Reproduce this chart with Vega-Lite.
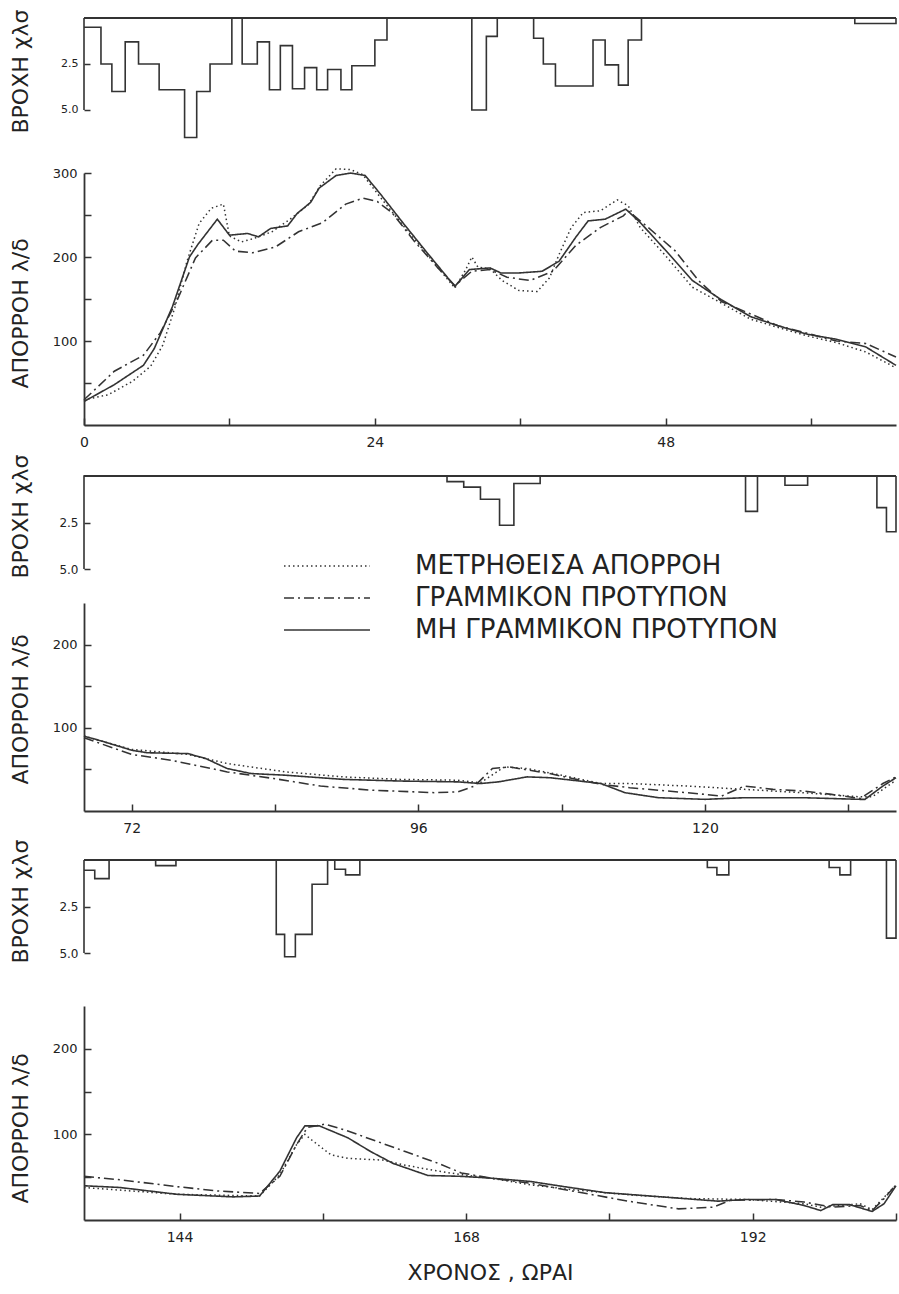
{
"$schema": "https://vega.github.io/schema/vega-lite/v6.json",
"background": "white",
"padding": {"left": 8, "top": 5, "right": 2, "bottom": 5},
"config": {
  "view": {"stroke": null},
  "font": "DejaVu Sans",
  "axis": {"grid": false, "labelFont": "DejaVu Sans", "labelFontSize": 12, "labelColor": "#222", "domainColor": "#333", "tickColor": "#333", "domainWidth": 1.8, "tickWidth": 1.5, "titleFont": "DejaVu Sans", "titleFontWeight": "normal", "titleColor": "#222", "labelOverlap": false, "labelFlush": false}
},
"datasets": {
"r": [
{"s":1,"i":-1,"t":0,"r":5},{"s":1,"i":0,"t":0,"r":0},{"s":1,"i":1,"t":0,"r":0.5},{"s":1,"i":2,"t":1.4,"r":2.5},{"s":1,"i":3,"t":2.3,"r":4.0},{"s":1,"i":4,"t":3.4,"r":1.3},{"s":1,"i":5,"t":4.5,"r":2.5},{"s":1,"i":6,"t":6.2,"r":3.9},{"s":1,"i":7,"t":8.3,"r":6.5},{"s":1,"i":8,"t":9.3,"r":4.0},{"s":1,"i":9,"t":10.4,"r":2.5},{"s":1,"i":10,"t":12.2,"r":0},{"s":1,"i":11,"t":13.05,"r":2.5},{"s":1,"i":12,"t":14.3,"r":1.3},{"s":1,"i":13,"t":15.3,"r":3.9},{"s":1,"i":14,"t":16.2,"r":1.5},{"s":1,"i":15,"t":17.2,"r":3.85},{"s":1,"i":16,"t":18.2,"r":2.7},{"s":1,"i":17,"t":19.2,"r":3.9},{"s":1,"i":18,"t":20.1,"r":2.8},{"s":1,"i":19,"t":21.2,"r":3.9},{"s":1,"i":20,"t":22.1,"r":2.6},{"s":1,"i":21,"t":24.0,"r":1.2},{"s":1,"i":22,"t":25.0,"r":0},{"s":1,"i":23,"t":32.0,"r":5.0},{"s":1,"i":24,"t":33.2,"r":1.0},{"s":1,"i":25,"t":34.1,"r":0},{"s":1,"i":26,"t":37.1,"r":1.1},{"s":1,"i":27,"t":37.9,"r":2.5},{"s":1,"i":28,"t":38.9,"r":3.7},{"s":1,"i":29,"t":42.0,"r":1.2},{"s":1,"i":30,"t":43.0,"r":2.55},{"s":1,"i":31,"t":44.1,"r":3.65},{"s":1,"i":32,"t":44.9,"r":1.2},{"s":1,"i":33,"t":46.0,"r":0},{"s":1,"i":34,"t":63.6,"r":0.3},{"s":1,"i":35,"t":67,"r":0.3},{"s":1,"i":36,"t":67,"r":0},
{"s":2,"i":39,"t":68,"r":5},{"s":2,"i":40,"t":68,"r":0},{"s":2,"i":41,"t":98.4,"r":0.3},{"s":2,"i":42,"t":99.8,"r":0.6},{"s":2,"i":43,"t":101.2,"r":1.25},{"s":2,"i":44,"t":102.8,"r":2.65},{"s":2,"i":45,"t":104.0,"r":0.4},{"s":2,"i":46,"t":106.2,"r":0},{"s":2,"i":47,"t":123.4,"r":1.9},{"s":2,"i":48,"t":124.4,"r":0},{"s":2,"i":49,"t":126.7,"r":0.5},{"s":2,"i":50,"t":128.6,"r":0},{"s":2,"i":51,"t":134.4,"r":1.7},{"s":2,"i":52,"t":135.2,"r":3.0},{"s":2,"i":53,"t":136,"r":3.0},{"s":2,"i":54,"t":136,"r":0},
{"s":3,"i":59,"t":136,"r":5},{"s":3,"i":60,"t":136,"r":0},{"s":3,"i":61,"t":136,"r":0.55},{"s":3,"i":62,"t":136.9,"r":1.0},{"s":3,"i":63,"t":138.1,"r":0},{"s":3,"i":64,"t":142.0,"r":0.3},{"s":3,"i":65,"t":143.7,"r":0},{"s":3,"i":66,"t":152.1,"r":4.0},{"s":3,"i":67,"t":152.8,"r":5.2},{"s":3,"i":68,"t":153.7,"r":4.0},{"s":3,"i":69,"t":155.1,"r":1.3},{"s":3,"i":70,"t":156.4,"r":0},{"s":3,"i":71,"t":157.0,"r":0.5},{"s":3,"i":72,"t":157.9,"r":0.8},{"s":3,"i":73,"t":159.1,"r":0},{"s":3,"i":74,"t":188.2,"r":0.4},{"s":3,"i":75,"t":189.0,"r":0.8},{"s":3,"i":76,"t":190.0,"r":0},{"s":3,"i":77,"t":198.4,"r":0.4},{"s":3,"i":78,"t":199.3,"r":0.8},{"s":3,"i":79,"t":200.2,"r":0},{"s":3,"i":80,"t":203.2,"r":4.2},{"s":3,"i":81,"t":204,"r":4.2},{"s":3,"i":82,"t":204,"r":0}
],
"q": [
{"s":1,"m":"N","t":0,"q":28},{"s":1,"m":"N","t":2.5,"q":48},{"s":1,"m":"N","t":4.9,"q":71},{"s":1,"m":"N","t":5.8,"q":91},{"s":1,"m":"N","t":7.3,"q":141},{"s":1,"m":"N","t":8.7,"q":200},{"s":1,"m":"N","t":9.4,"q":215},{"s":1,"m":"N","t":11.0,"q":245},{"s":1,"m":"N","t":12.0,"q":226},{"s":1,"m":"N","t":13.5,"q":228},{"s":1,"m":"N","t":14.4,"q":224},{"s":1,"m":"N","t":15.4,"q":234},{"s":1,"m":"N","t":16.8,"q":237},{"s":1,"m":"N","t":17.6,"q":252},{"s":1,"m":"N","t":18.7,"q":265},{"s":1,"m":"N","t":19.4,"q":282},{"s":1,"m":"N","t":20.8,"q":297},{"s":1,"m":"N","t":22.0,"q":300},{"s":1,"m":"N","t":23.2,"q":297},{"s":1,"m":"N","t":24.4,"q":276},{"s":1,"m":"N","t":26.3,"q":241},{"s":1,"m":"N","t":28.2,"q":207},{"s":1,"m":"N","t":30.6,"q":165},{"s":1,"m":"N","t":31.8,"q":185},{"s":1,"m":"N","t":33.5,"q":187},{"s":1,"m":"N","t":34.4,"q":181},{"s":1,"m":"N","t":35.9,"q":181},{"s":1,"m":"N","t":37.8,"q":183},{"s":1,"m":"N","t":39.2,"q":195},{"s":1,"m":"N","t":40.6,"q":224},{"s":1,"m":"N","t":41.6,"q":243},{"s":1,"m":"N","t":43.0,"q":245},{"s":1,"m":"N","t":44.7,"q":257},{"s":1,"m":"N","t":45.9,"q":241},{"s":1,"m":"N","t":48.3,"q":203},{"s":1,"m":"N","t":50.2,"q":172},{"s":1,"m":"N","t":52.6,"q":149},{"s":1,"m":"N","t":55.0,"q":129},{"s":1,"m":"N","t":57.3,"q":118},{"s":1,"m":"N","t":59.7,"q":108},{"s":1,"m":"N","t":62.1,"q":102},{"s":1,"m":"N","t":64.5,"q":93},{"s":1,"m":"N","t":67.0,"q":71},
{"s":1,"m":"M","t":0,"q":30},{"s":1,"m":"M","t":2,"q":36},{"s":1,"m":"M","t":4,"q":52},{"s":1,"m":"M","t":5.5,"q":70},{"s":1,"m":"M","t":6.5,"q":95},{"s":1,"m":"M","t":7.5,"q":140},{"s":1,"m":"M","t":8.5,"q":195},{"s":1,"m":"M","t":9.5,"q":240},{"s":1,"m":"M","t":10.5,"q":258},{"s":1,"m":"M","t":11.5,"q":263},{"s":1,"m":"M","t":12.0,"q":225},{"s":1,"m":"M","t":13.0,"q":218},{"s":1,"m":"M","t":14.0,"q":222},{"s":1,"m":"M","t":15.5,"q":230},{"s":1,"m":"M","t":17.0,"q":245},{"s":1,"m":"M","t":18.5,"q":262},{"s":1,"m":"M","t":19.5,"q":285},{"s":1,"m":"M","t":20.8,"q":305},{"s":1,"m":"M","t":22.0,"q":304},{"s":1,"m":"M","t":23.0,"q":298},{"s":1,"m":"M","t":24.4,"q":272},{"s":1,"m":"M","t":26.3,"q":238},{"s":1,"m":"M","t":28.2,"q":205},{"s":1,"m":"M","t":30.6,"q":163},{"s":1,"m":"M","t":31.5,"q":185},{"s":1,"m":"M","t":32.0,"q":200},{"s":1,"m":"M","t":32.5,"q":188},{"s":1,"m":"M","t":33.5,"q":186},{"s":1,"m":"M","t":34.5,"q":172},{"s":1,"m":"M","t":35.9,"q":160},{"s":1,"m":"M","t":37.4,"q":159},{"s":1,"m":"M","t":38.4,"q":175},{"s":1,"m":"M","t":39.2,"q":203},{"s":1,"m":"M","t":40.2,"q":235},{"s":1,"m":"M","t":41.2,"q":253},{"s":1,"m":"M","t":42.6,"q":255},{"s":1,"m":"M","t":44.0,"q":268},{"s":1,"m":"M","t":44.9,"q":261},{"s":1,"m":"M","t":45.9,"q":235},{"s":1,"m":"M","t":47.9,"q":203},{"s":1,"m":"M","t":50.2,"q":164},{"s":1,"m":"M","t":52.6,"q":145},{"s":1,"m":"M","t":55.0,"q":126},{"s":1,"m":"M","t":57.3,"q":116},{"s":1,"m":"M","t":59.7,"q":106},{"s":1,"m":"M","t":62.1,"q":98},{"s":1,"m":"M","t":64.5,"q":87},{"s":1,"m":"M","t":67.0,"q":68},
{"s":1,"m":"L","t":0,"q":30},{"s":1,"m":"L","t":2.5,"q":64},{"s":1,"m":"L","t":4.9,"q":83},{"s":1,"m":"L","t":6.3,"q":110},{"s":1,"m":"L","t":7.7,"q":149},{"s":1,"m":"L","t":9.2,"q":199},{"s":1,"m":"L","t":10.6,"q":220},{"s":1,"m":"L","t":11.5,"q":220},{"s":1,"m":"L","t":12.5,"q":207},{"s":1,"m":"L","t":13.9,"q":205},{"s":1,"m":"L","t":15.8,"q":212},{"s":1,"m":"L","t":17.7,"q":230},{"s":1,"m":"L","t":19.7,"q":241},{"s":1,"m":"L","t":21.6,"q":263},{"s":1,"m":"L","t":23.0,"q":270},{"s":1,"m":"L","t":24.2,"q":266},{"s":1,"m":"L","t":25.4,"q":253},{"s":1,"m":"L","t":27.3,"q":218},{"s":1,"m":"L","t":29.2,"q":187},{"s":1,"m":"L","t":30.6,"q":166},{"s":1,"m":"L","t":32.0,"q":183},{"s":1,"m":"L","t":33.5,"q":185},{"s":1,"m":"L","t":34.9,"q":176},{"s":1,"m":"L","t":36.8,"q":172},{"s":1,"m":"L","t":38.7,"q":183},{"s":1,"m":"L","t":40.6,"q":214},{"s":1,"m":"L","t":42.6,"q":235},{"s":1,"m":"L","t":44.5,"q":249},{"s":1,"m":"L","t":44.9,"q":255},{"s":1,"m":"L","t":46.4,"q":237},{"s":1,"m":"L","t":48.8,"q":207},{"s":1,"m":"L","t":50.7,"q":172},{"s":1,"m":"L","t":52.6,"q":147},{"s":1,"m":"L","t":57.3,"q":118},{"s":1,"m":"L","t":62.1,"q":100},{"s":1,"m":"L","t":64.5,"q":97},{"s":1,"m":"L","t":67.0,"q":81},
{"s":2,"m":"N","t":68,"q":90},{"s":2,"m":"N","t":69.5,"q":84},{"s":2,"m":"N","t":72,"q":73},{"s":2,"m":"N","t":73.3,"q":70},{"s":2,"m":"N","t":76.7,"q":69},{"s":2,"m":"N","t":78.2,"q":63},{"s":2,"m":"N","t":80,"q":51},{"s":2,"m":"N","t":82,"q":45},{"s":2,"m":"N","t":84.9,"q":43},{"s":2,"m":"N","t":89.7,"q":38},{"s":2,"m":"N","t":94.5,"q":36},{"s":2,"m":"N","t":99.3,"q":35},{"s":2,"m":"N","t":101.2,"q":33},{"s":2,"m":"N","t":102.7,"q":35},{"s":2,"m":"N","t":105.1,"q":41},{"s":2,"m":"N","t":107,"q":40},{"s":2,"m":"N","t":108.9,"q":37},{"s":2,"m":"N","t":111.3,"q":33},{"s":2,"m":"N","t":113.3,"q":22},{"s":2,"m":"N","t":116.1,"q":16},{"s":2,"m":"N","t":120,"q":14},{"s":2,"m":"N","t":123.3,"q":16},{"s":2,"m":"N","t":128.2,"q":16},{"s":2,"m":"N","t":133,"q":14},{"s":2,"m":"N","t":133.4,"q":14},{"s":2,"m":"N","t":134.9,"q":30},{"s":2,"m":"N","t":136,"q":40},
{"s":2,"m":"M","t":68,"q":90},{"s":2,"m":"M","t":72,"q":74},{"s":2,"m":"M","t":76.7,"q":68},{"s":2,"m":"M","t":80,"q":57},{"s":2,"m":"M","t":84.9,"q":47},{"s":2,"m":"M","t":89.7,"q":41},{"s":2,"m":"M","t":94.5,"q":38},{"s":2,"m":"M","t":99.3,"q":37},{"s":2,"m":"M","t":101.2,"q":34},{"s":2,"m":"M","t":103.2,"q":53},{"s":2,"m":"M","t":105.1,"q":51},{"s":2,"m":"M","t":108,"q":43},{"s":2,"m":"M","t":111.3,"q":33},{"s":2,"m":"M","t":113.7,"q":33},{"s":2,"m":"M","t":118.5,"q":30},{"s":2,"m":"M","t":123.3,"q":26},{"s":2,"m":"M","t":128.2,"q":22},{"s":2,"m":"M","t":133,"q":17},{"s":2,"m":"M","t":134,"q":17},{"s":2,"m":"M","t":136,"q":37},
{"s":2,"m":"L","t":68,"q":88},{"s":2,"m":"L","t":72,"q":68},{"s":2,"m":"L","t":75.3,"q":61},{"s":2,"m":"L","t":80,"q":47},{"s":2,"m":"L","t":83.9,"q":39},{"s":2,"m":"L","t":87.8,"q":30},{"s":2,"m":"L","t":92.1,"q":25},{"s":2,"m":"L","t":97.4,"q":22},{"s":2,"m":"L","t":99.3,"q":23},{"s":2,"m":"L","t":100.7,"q":30},{"s":2,"m":"L","t":102.2,"q":51},{"s":2,"m":"L","t":103.6,"q":53},{"s":2,"m":"L","t":107,"q":45},{"s":2,"m":"L","t":108.9,"q":39},{"s":2,"m":"L","t":111.3,"q":32},{"s":2,"m":"L","t":113.7,"q":28},{"s":2,"m":"L","t":118.5,"q":22},{"s":2,"m":"L","t":121.4,"q":18},{"s":2,"m":"L","t":123.3,"q":30},{"s":2,"m":"L","t":125.7,"q":26},{"s":2,"m":"L","t":128.2,"q":24},{"s":2,"m":"L","t":130.6,"q":20},{"s":2,"m":"L","t":133,"q":15},{"s":2,"m":"L","t":134.9,"q":33},{"s":2,"m":"L","t":136,"q":41},
{"s":3,"m":"N","t":136,"q":40},{"s":3,"m":"N","t":139,"q":38},{"s":3,"m":"N","t":143.8,"q":30},{"s":3,"m":"N","t":148.5,"q":27},{"s":3,"m":"N","t":150.7,"q":28},{"s":3,"m":"N","t":152.4,"q":57},{"s":3,"m":"N","t":153.8,"q":96},{"s":3,"m":"N","t":154.5,"q":110},{"s":3,"m":"N","t":155.7,"q":110},{"s":3,"m":"N","t":158.1,"q":96},{"s":3,"m":"N","t":160,"q":80},{"s":3,"m":"N","t":161.9,"q":66},{"s":3,"m":"N","t":164.8,"q":52},{"s":3,"m":"N","t":167.6,"q":51},{"s":3,"m":"N","t":170,"q":49},{"s":3,"m":"N","t":173.4,"q":45},{"s":3,"m":"N","t":176.2,"q":39},{"s":3,"m":"N","t":179.6,"q":32},{"s":3,"m":"N","t":184.4,"q":27},{"s":3,"m":"N","t":189.1,"q":22},{"s":3,"m":"N","t":191.5,"q":24},{"s":3,"m":"N","t":193.9,"q":24},{"s":3,"m":"N","t":196.3,"q":17},{"s":3,"m":"N","t":197.7,"q":11},{"s":3,"m":"N","t":198.7,"q":18},{"s":3,"m":"N","t":200.1,"q":18},{"s":3,"m":"N","t":202,"q":10},{"s":3,"m":"N","t":203,"q":19},{"s":3,"m":"N","t":204,"q":40},
{"s":3,"m":"M","t":136,"q":38},{"s":3,"m":"M","t":143.8,"q":30},{"s":3,"m":"M","t":150.7,"q":28},{"s":3,"m":"M","t":152.4,"q":53},{"s":3,"m":"M","t":153.8,"q":88},{"s":3,"m":"M","t":154.5,"q":100},{"s":3,"m":"M","t":155.2,"q":92},{"s":3,"m":"M","t":156.7,"q":76},{"s":3,"m":"M","t":158.1,"q":72},{"s":3,"m":"M","t":161,"q":70},{"s":3,"m":"M","t":162.9,"q":64},{"s":3,"m":"M","t":165.7,"q":57},{"s":3,"m":"M","t":167.6,"q":53},{"s":3,"m":"M","t":170,"q":49},{"s":3,"m":"M","t":173.4,"q":41},{"s":3,"m":"M","t":177.2,"q":35},{"s":3,"m":"M","t":182,"q":29},{"s":3,"m":"M","t":186.8,"q":25},{"s":3,"m":"M","t":191.5,"q":24},{"s":3,"m":"M","t":196.3,"q":19},{"s":3,"m":"M","t":197.7,"q":15},{"s":3,"m":"M","t":201,"q":19},{"s":3,"m":"M","t":202,"q":12},{"s":3,"m":"M","t":204,"q":41},
{"s":3,"m":"L","t":136,"q":51},{"s":3,"m":"L","t":139,"q":47},{"s":3,"m":"L","t":143.8,"q":39},{"s":3,"m":"L","t":147.1,"q":34},{"s":3,"m":"L","t":150.7,"q":31},{"s":3,"m":"L","t":152.4,"q":51},{"s":3,"m":"L","t":153.8,"q":88},{"s":3,"m":"L","t":154.7,"q":108},{"s":3,"m":"L","t":156.2,"q":112},{"s":3,"m":"L","t":158.1,"q":104},{"s":3,"m":"L","t":160.5,"q":92},{"s":3,"m":"L","t":162.9,"q":80},{"s":3,"m":"L","t":165.7,"q":66},{"s":3,"m":"L","t":167.6,"q":55},{"s":3,"m":"L","t":170,"q":49},{"s":3,"m":"L","t":173.4,"q":43},{"s":3,"m":"L","t":177.2,"q":33},{"s":3,"m":"L","t":182,"q":21},{"s":3,"m":"L","t":185.8,"q":13},{"s":3,"m":"L","t":188.7,"q":15},{"s":3,"m":"L","t":190.1,"q":23},{"s":3,"m":"L","t":193.9,"q":24},{"s":3,"m":"L","t":196.3,"q":21},{"s":3,"m":"L","t":198.7,"q":15},{"s":3,"m":"L","t":201,"q":17},{"s":3,"m":"L","t":202,"q":11},{"s":3,"m":"L","t":203,"q":25},{"s":3,"m":"L","t":204,"q":41}
]
},
"spacing": 34,
"bounds": "flush",
"resolve": {"scale": {"x": "independent", "y": "independent", "strokeDash": "independent", "strokeWidth": "independent"}},
"vconcat": [
  {"width": 812, "height": 121,
   "layer": [
    {"data": {"values": [{}]}, "mark": {"type": "rule", "color": "#333", "strokeWidth": 1.8}, "encoding": {"y": {"datum": 0, "type": "quantitative"}}},
    {"data": {"name": "r"}, "transform": [{"filter": "datum.s == 1"}],
     "mark": {"type": "line", "interpolate": "step-after", "color": "#333", "strokeWidth": 1.6},
     "encoding": {
      "x": {"field": "t", "type": "quantitative", "scale": {"domain": [0, 67], "nice": false, "zero": false}, "axis": null},
      "y": {"field": "r", "type": "quantitative", "scale": {"domain": [0, 6.58], "nice": false, "reverse": true},
            "axis": {"values": [2.5, 5], "format": ".1f", "domain": false, "tickSize": -6, "labelPadding": 12, "labelFontSize": 11, "title": "ΒΡΟΧΗ  χλσ", "titleFontSize": 22, "titleX": -52, "titleY": 53, "titleBaseline": "bottom"}},
      "order": {"field": "i", "type": "quantitative"}
     }}
   ]},
  {"width": 812, "height": 252,
   "data": {"name": "q"}, "transform": [{"filter": "datum.s == 1"}],
   "mark": {"type": "line", "color": "#333"},
   "encoding": {
    "x": {"field": "t", "type": "quantitative", "scale": {"domain": [0, 67], "nice": false, "zero": false},
          "axis": {"values": [0, 12, 24, 36, 48, 60], "labelExpr": "datum.value % 24 == 0 ? datum.label : ''", "tickSize": -7, "labelPadding": 17, "labelFontSize": 14, "title": null}},
    "y": {"field": "q", "type": "quantitative", "scale": {"domain": [0, 300], "nice": false},
          "axis": {"values": [50, 100, 150, 200, 250, 300], "labelExpr": "datum.value % 100 == 0 ? datum.label : ''", "tickSize": -7, "labelPadding": 14, "labelFontSize": 13, "title": "ΑΠΟΡΡΟΗ  λ/δ", "titleFontSize": 22, "titleX": -52, "titleY": 140, "titleBaseline": "bottom"}},
    "strokeDash": {"field": "m", "type": "nominal", "scale": {"domain": ["M", "L", "N"], "range": [[1.5, 3], [10, 4, 2, 4], [1, 0]]}, "legend": null},
    "strokeWidth": {"field": "m", "type": "nominal", "scale": {"domain": ["M", "L", "N"], "range": [1.5, 1.6, 2.2]}, "legend": null}
   }},
  {"width": 812, "height": 110,
   "layer": [
    {"data": {"values": [{}]}, "mark": {"type": "rule", "color": "#333", "strokeWidth": 1.8}, "encoding": {"y": {"datum": 0, "type": "quantitative"}}},
    {"data": {"name": "r"}, "transform": [{"filter": "datum.s == 2"}],
     "mark": {"type": "line", "interpolate": "step-after", "color": "#333", "strokeWidth": 1.6},
     "encoding": {
      "x": {"field": "t", "type": "quantitative", "scale": {"domain": [68, 136], "nice": false, "zero": false}, "axis": null},
      "y": {"field": "r", "type": "quantitative", "scale": {"domain": [-0.914, 5], "nice": false, "reverse": true},
            "axis": {"values": [2.5, 5], "format": ".1f", "domain": false, "tickSize": -6, "labelPadding": 12, "labelFontSize": 12, "title": "ΒΡΟΧΗ  χλσ", "titleFontSize": 22, "titleX": -52, "titleY": 57, "titleBaseline": "bottom"}},
      "order": {"field": "i", "type": "quantitative"}
     }}
   ]},
  {"width": 812, "height": 208,
   "data": {"name": "q"}, "transform": [{"filter": "datum.s == 2"}],
   "mark": {"type": "line", "color": "#333"},
   "encoding": {
    "x": {"field": "t", "type": "quantitative", "scale": {"domain": [68, 136], "nice": false, "zero": false},
          "axis": {"values": [72, 84, 96, 108, 120, 132], "labelExpr": "datum.value % 24 == 0 ? datum.label : ''", "tickSize": -7, "labelPadding": 17, "labelFontSize": 14, "title": null}},
    "y": {"field": "q", "type": "quantitative", "scale": {"domain": [0, 250], "nice": false},
          "axis": {"values": [50, 100, 150, 200], "labelExpr": "datum.value % 100 == 0 ? datum.label : ''", "tickSize": -7, "labelPadding": 14, "labelFontSize": 13, "title": "ΑΠΟΡΡΟΗ  λ/δ", "titleFontSize": 22, "titleX": -52, "titleY": 106, "titleBaseline": "bottom"}},
    "strokeDash": {"field": "m", "type": "nominal", "scale": {"domain": ["M", "L", "N"], "range": [[1.5, 3], [10, 4, 2, 4], [1, 0]]},
       "legend": {"orient": "none", "legendX": 230, "legendY": -50, "title": null, "symbolType": "M-4,0H4", "symbolSize": 462, "symbolStrokeWidth": 1.8, "symbolStrokeColor": "#333", "symbolFillColor": "transparent", "labelFont": "DejaVu Sans", "labelFontSize": 26, "labelColor": "#222", "labelOffset": 75, "rowPadding": 6, "labelLimit": 600,
         "labelExpr": "datum.value == 'M' ? 'ΜΕΤΡΗΘΕΙΣΑ ΑΠΟΡΡΟΗ' : datum.value == 'L' ? 'ΓΡΑΜΜΙΚΟΝ ΠΡΟΤΥΠΟΝ' : 'ΜΗ ΓΡΑΜΜΙΚΟΝ ΠΡΟΤΥΠΟΝ'"}},
    "strokeWidth": {"field": "m", "type": "nominal", "scale": {"domain": ["M", "L", "N"], "range": [1.5, 1.6, 2.2]}, "legend": null}
   }},
  {"width": 812, "height": 127,
   "layer": [
    {"data": {"values": [{}]}, "mark": {"type": "rule", "color": "#333", "strokeWidth": 1.8}, "encoding": {"y": {"datum": 0, "type": "quantitative"}}},
    {"data": {"name": "r"}, "transform": [{"filter": "datum.s == 3"}],
     "mark": {"type": "line", "interpolate": "step-after", "color": "#333", "strokeWidth": 1.6},
     "encoding": {
      "x": {"field": "t", "type": "quantitative", "scale": {"domain": [136, 204], "nice": false, "zero": false}, "axis": null},
      "y": {"field": "r", "type": "quantitative", "scale": {"domain": [-0.806, 6.02], "nice": false, "reverse": true},
            "axis": {"values": [2.5, 5], "format": ".1f", "domain": false, "tickSize": -6, "labelPadding": 12, "labelFontSize": 12, "title": "ΒΡΟΧΗ  χλσ", "titleFontSize": 22, "titleX": -52, "titleY": 56, "titleBaseline": "bottom"}},
      "order": {"field": "i", "type": "quantitative"}
     }}
   ]},
  {"width": 812, "height": 214,
   "data": {"name": "q"}, "transform": [{"filter": "datum.s == 3"}],
   "mark": {"type": "line", "color": "#333"},
   "encoding": {
    "x": {"field": "t", "type": "quantitative", "scale": {"domain": [136, 204], "nice": false, "zero": false},
          "axis": {"values": [144, 156, 168, 180, 192, 204], "labelExpr": "datum.value % 24 == 0 ? datum.label : ''", "tickSize": -7, "labelPadding": 17, "labelFontSize": 14, "title": "ΧΡΟΝΟΣ , ΩΡΑΙ", "titleFontSize": 22, "titlePadding": 18}},
    "y": {"field": "q", "type": "quantitative", "scale": {"domain": [0, 250], "nice": false},
          "axis": {"values": [50, 100, 150, 200], "labelExpr": "datum.value % 100 == 0 ? datum.label : ''", "tickSize": -7, "labelPadding": 14, "labelFontSize": 13, "title": "ΑΠΟΡΡΟΗ  λ/δ", "titleFontSize": 22, "titleX": -52, "titleY": 122, "titleBaseline": "bottom"}},
    "strokeDash": {"field": "m", "type": "nominal", "scale": {"domain": ["M", "L", "N"], "range": [[1.5, 3], [10, 4, 2, 4], [1, 0]]}, "legend": null},
    "strokeWidth": {"field": "m", "type": "nominal", "scale": {"domain": ["M", "L", "N"], "range": [1.5, 1.6, 2.2]}, "legend": null}
   }}
]
}
